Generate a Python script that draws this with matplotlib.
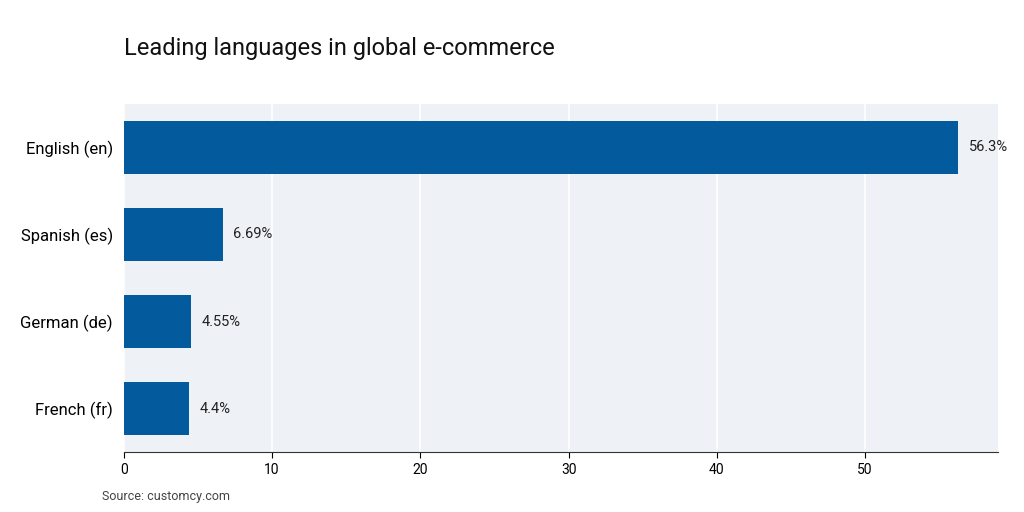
import matplotlib.pyplot as plt

languages = ['English (en)', 'Spanish (es)', 'German (de)', 'French (fr)']
shares = [56.3, 6.69, 4.55, 4.4]
labels = ['56.3%', '6.69%', '4.55%', '4.4%']

plt.rcParams['font.family'] = ['Roboto', 'DejaVu Sans']

fig = plt.figure(figsize=(10.24, 5.12), dpi=100)
ax = fig.add_axes([0.121, 0.117, 0.854, 0.680])
ax.set_facecolor('#eef2f6')

pos = range(len(languages))
ax.barh(pos, shares, height=0.6, color='#035a9c', zorder=3)
for y, v, t in zip(pos, shares, labels):
    ax.text(v + 0.7, y, t, va='center', ha='left', fontsize=10.5, color='#222222')

ax.set_yticks(list(pos))
ax.set_yticklabels(languages, fontsize=12)
ax.set_ylim(3.5, -0.5)
ax.set_xlim(0, 59)
ax.set_xticks([0, 10, 20, 30, 40, 50])
ax.tick_params(axis='x', labelsize=10, length=4)
ax.tick_params(axis='y', length=0, pad=8)
ax.grid(axis='x', color='white', linewidth=1.2, zorder=1)
for s in ['top', 'right', 'left']:
    ax.spines[s].set_visible(False)
ax.spines['bottom'].set_color('#333333')

fig.text(0.121, 0.905, 'Leading languages in global e-commerce', fontsize=17, color='#111111', va='center')
fig.text(0.1, 0.03, 'Source: customcy.com', fontsize=9, color='#444444', va='center')

fig.savefig('out.png', dpi=100)
